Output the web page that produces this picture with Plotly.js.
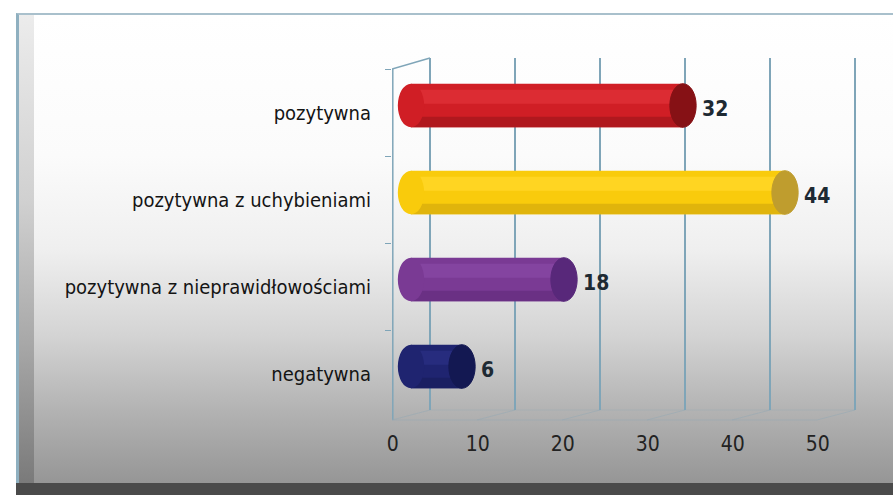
<!DOCTYPE html>
<html>
<head>
<meta charset="utf-8">
<script src="https://cdn.plot.ly/plotly-3.0.1.min.js"></script>
<style>
  html, body { margin:0; padding:0; background:#ffffff; }
  #wrap { position:relative; width:893px; height:495px; overflow:hidden; }
  #frame { position:absolute; left:16px; top:13px; width:877px; height:470px;
    border-left:3px solid #8fb0c0; border-top:2px solid #a9c0cc;
    background: linear-gradient(to bottom, #ffffff 0%, #fbfbfb 30%, #efefef 50%, #d4d4d4 68%, #b3b3b3 84%, #959595 100%); }
  #bevel { position:absolute; left:19px; top:15px; width:15px; height:468px;
    background: linear-gradient(to bottom, #ececec 0%, #d0d0d0 40%, #a8a8a8 70%, #7a7a7a 100%); }
  #bottomband { position:absolute; left:16px; top:483px; width:877px; height:12px; background:#4a4a4a; }
  #chart { position:absolute; left:0; top:0; width:893px; height:495px; }
</style>
</head>
<body>
<div id="wrap">
  <div id="frame"></div>
  <div id="bevel"></div>
  <div id="bottomband"></div>
  <div id="chart"></div>
</div>
<script>
// ---- data ----
const categories = ['pozytywna', 'pozytywna z uchybieniami', 'pozytywna z nieprawidłowościami', 'negatywna'];
const values = [32, 44, 18, 6];
const tickValues = [0, 10, 20, 30, 40, 50];
const tickLabels = ['0', '10', '20', '30', '40', '50'];

// ---- styles ----
const barColors = ['#d01e25', '#f9cb0c', '#7a3a94', '#1f2470'];
const hiColors  = ['#dc2c33', '#ffd522', '#8444a0', '#272c7e'];
const loColors  = ['#b0181e', '#e0b40c', '#6a3084', '#1a1f62'];
const capColors = ['#861115', '#bf9d2e', '#58287a', '#131852'];
const FONT = 'DejaVu Sans Condensed, DejaVu Sans, sans-serif';
const GRID = '#7fa5b8';
const PX = 8.5;            // pixels per unit
const L = 392, R = 870, T = 58, B = 410;
const DEPTH = 38 / PX;     // depth offset front->back in units
const CAP = 1.55;          // half-width of cylinder ends in units
const BW = 0.5;            // bar thickness in category units
const PH = B - T;

const catIdx = categories.map((c, i) => i);

const traces = [
  { type:'bar', orientation:'h', x: values, y: categories, base: 0, width: BW,
    marker:{ color: barColors, line:{ width: 0 } },
    hoverinfo:'skip', xaxis:'x', yaxis:'y' },
  { type:'bar', orientation:'h', x: values, y: categories, base: 0, width: 0.16, offset: -0.18,
    marker:{ color: hiColors, line:{ width:0 } }, hoverinfo:'skip', xaxis:'x', yaxis:'y' },
  { type:'bar', orientation:'h', x: values, y: categories, base: 0, width: 0.12, offset: 0.13,
    marker:{ color: loColors, line:{ width:0 } }, hoverinfo:'skip', xaxis:'x', yaxis:'y' },
  // invisible helper so the front category axis is built
  { type:'scatter', mode:'markers', x: values, y: catIdx, marker:{ opacity:0 },
    hoverinfo:'skip', xaxis:'x', yaxis:'y2' }
];

const shapes = [];
catIdx.forEach(i => {
  shapes.push({ type:'circle', xref:'x', yref:'y', layer:'above',
    x0: -CAP, x1: CAP, y0: i - BW / 2, y1: i + BW / 2,
    fillcolor: barColors[i], line:{ width: 0 } });
  shapes.push({ type:'circle', xref:'x', yref:'y', layer:'above',
    x0: values[i] - CAP, x1: values[i] + CAP, y0: i - BW / 2, y1: i + BW / 2,
    fillcolor: capColors[i], line:{ color: capColors[i], width: 1 } });
});
// 3D wall / floor decorations
const yFront = (B - 420) / PH, yWallTop = (B - 69) / PH;
shapes.push({ type:'line', xref:'x2', yref:'paper', x0:0, x1:0, y0:yFront, y1:yWallTop, layer:'below', line:{ color: GRID, width:1.5 } });
shapes.push({ type:'line', xref:'x3', yref:'paper', x0:-DEPTH, x1:0, y0:yWallTop, y1:1, layer:'below', line:{ color: GRID, width:1.5 } });
tickValues.forEach(t => {
  shapes.push({ type:'line', xref:'x3', yref:'paper', x0:t, x1:t - DEPTH, y0:0, y1:yFront, layer:'below', line:{ color:'rgba(150,170,180,0.55)', width:1 } });
});
shapes.push({ type:'line', xref:'x3', yref:'paper', x0:-DEPTH, x1:tickValues[tickValues.length-1] - DEPTH, y0:yFront, y1:yFront, layer:'below', line:{ color:'rgba(150,170,180,0.55)', width:1 } });
shapes.push({ type:'line', xref:'x3', yref:'paper', x0:0, x1:tickValues[tickValues.length-1], y0:0, y1:0, layer:'below', line:{ color:'rgba(150,170,180,0.45)', width:1 } });

const annotations = catIdx.map(i => ({
  xref:'x', yref:'y', x: values[i] + CAP, y: categories[i], xanchor:'left', yanchor:'middle',
  xshift: 4, yshift: -3, showarrow:false, text: String(values[i]),
  font:{ family: FONT, size: 21, color:'#1e2a33', weight: 'bold' }
}));

const layout = {
  width: 893, height: 495,
  margin:{ l: L, r: 893 - R, t: T, b: 495 - B, pad: 0 },
  paper_bgcolor:'rgba(0,0,0,0)', plot_bgcolor:'rgba(0,0,0,0)',
  showlegend:false, barmode:'overlay',
  xaxis:{ range:[(L - 411) / PX, (R - 411) / PX], visible:false, fixedrange:true },
  xaxis2:{ overlaying:'x', anchor:'y', side:'bottom', range:[(L - 392.8) / PX, (R - 392.8) / PX],
    tickmode:'array', tickvals: tickValues, ticktext: tickLabels, showgrid:false, zeroline:false, showline:false,
    ticks:'outside', ticklen: 15, tickcolor:'rgba(0,0,0,0)',
    tickfont:{ family: FONT, size: 21, color:'#222222' } },
  xaxis3:{ overlaying:'x', anchor:'y', range:[(L - 430) / PX, (R - 430) / PX],
    tickmode:'array', tickvals: tickValues, showticklabels:false, ticks:'',
    showgrid:true, gridcolor: GRID, gridwidth: 1.6, zeroline:false, showline:false },
  yaxis:{ type:'category', categoryorder:'array', categoryarray: categories,
    range:[(B - 105.5) / 87, (T - 105.5) / 87], visible:false, fixedrange:true },
  yaxis2:{ overlaying:'y', anchor:'x', side:'left', type:'linear',
    range:[(B - 113) / 87, (T - 113) / 87],
    tickmode:'array', tickvals: catIdx, ticktext: categories, ticks:'', ticklabelstandoff: 20,
    showgrid:false, zeroline:false, showline:false,
    minor:{ tickmode:'linear', tick0: 0.5, dtick: 1, ticks:'outside', ticklen: 6, tickcolor: GRID, tickwidth: 1.5, showgrid:false },
    tickfont:{ family: FONT, size: 20, color:'#141414' } },
  shapes: shapes,
  annotations: annotations
};

Plotly.newPlot('chart', traces, layout, { staticPlot:true, displayModeBar:false });
</script>
</body>
</html>
